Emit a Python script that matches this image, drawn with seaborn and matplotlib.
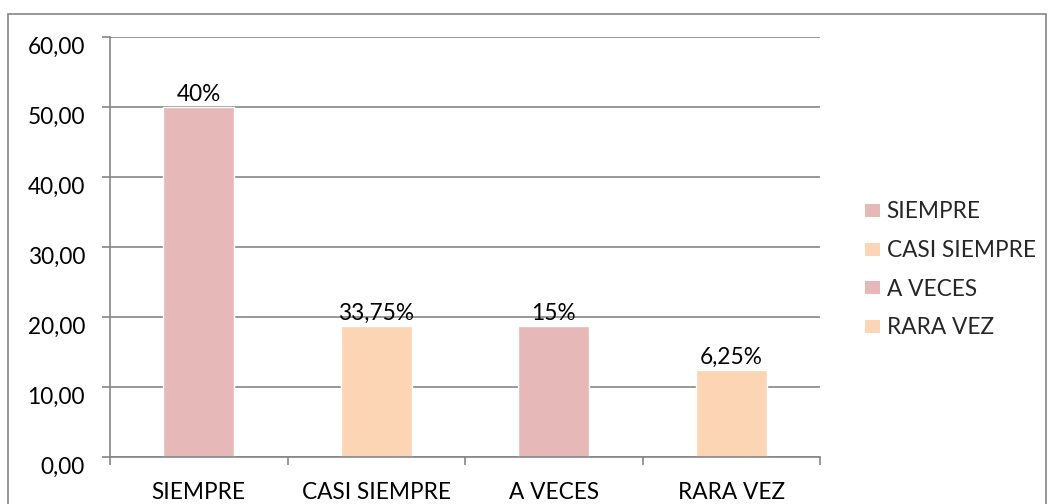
import matplotlib
matplotlib.use("Agg")
import matplotlib.pyplot as plt
import matplotlib.transforms as mtransforms
import pandas as pd
import seaborn as sns
from matplotlib.patches import Patch, Rectangle
from matplotlib.ticker import FuncFormatter

# Data
categories = ["SIEMPRE", "CASI SIEMPRE", "A VECES", "RARA VEZ"]
values = [50.0, 18.75, 18.75, 12.5]
bar_labels = ["40%", "33,75%", "15%", "6,25%"]
colors = ["#E6B9B8", "#FCD5B5", "#E6B9B8", "#FCD5B5"]

df = pd.DataFrame({"categoria": categories, "valor": values})

sns.set_style("white")
plt.rcParams["font.family"] = ["Lato", "DejaVu Sans"]
FS = 16.3
GRAY = "#868686"

fig = plt.figure(figsize=(10.48, 5.04), dpi=100)
ax = fig.add_axes([110 / 1048, 1 - 457.3 / 504, 710 / 1048, 420 / 504])

# outer chart border
fig.patches.append(Rectangle((8 / 1048, -0.05), 1038 / 1048, 1 - 14 / 504 + 0.05,
                             transform=fig.transFigure, fill=False,
                             edgecolor=GRAY, linewidth=1.2))

sns.barplot(data=df, x="categoria", y="valor", hue="categoria", palette=colors,
            width=0.4, legend=False, ax=ax, saturation=1)

ax.set_xlim(-0.5, 3.5)
ax.set_ylim(0, 60)
ax.set_yticks(range(0, 61, 10))
ax.yaxis.set_major_formatter(FuncFormatter(lambda v, p: f"{v:.2f}".replace(".", ",")))
ax.grid(axis="y", color=GRAY, linewidth=1.2)
ax.set_axisbelow(True)
ax.set_xlabel("")
ax.set_ylabel("")

for s in ["top", "right"]:
    ax.spines[s].set_visible(False)
for s in ["left", "bottom"]:
    ax.spines[s].set_color(GRAY)
    ax.spines[s].set_linewidth(1.2)

ax.set_xticks(range(len(categories)))
ax.set_xticklabels(categories)
ax.set_xticks([-0.5, 0.5, 1.5, 2.5, 3.5], minor=True)
ax.tick_params(axis="x", which="major", length=0, pad=18, labelsize=FS, labelcolor="black")
ax.tick_params(axis="x", which="minor", length=6, width=1.2, color=GRAY, direction="out")
ax.tick_params(axis="y", length=6, width=1.2, color=GRAY, direction="out",
               pad=12, labelsize=FS, labelcolor="black")
ax.tick_params(bottom=True, left=True, which="both")

# y labels sit a little below their gridline, like in the original
shift = mtransforms.ScaledTranslation(0, -8 / 100, fig.dpi_scale_trans)
for lab in ax.get_yticklabels():
    lab.set_transform(lab.get_transform() + shift)

for bar, lab in zip(sorted(ax.patches, key=lambda p: p.get_x()), bar_labels):
    ax.annotate(lab, (bar.get_x() + bar.get_width() / 2, bar.get_height()),
                xytext=(0, 1.5), textcoords="offset points", ha="center", va="bottom",
                fontsize=FS, color="black")

handles = [Patch(facecolor=c, edgecolor="none") for c in colors]
ax.legend(handles, categories, loc="center left", bbox_to_anchor=(1.034, 0.446),
          frameon=False, fontsize=FS, handlelength=0.68, handleheight=0.52,
          handletextpad=0.3, labelspacing=0.78)

fig.savefig("out.png", dpi=100)
